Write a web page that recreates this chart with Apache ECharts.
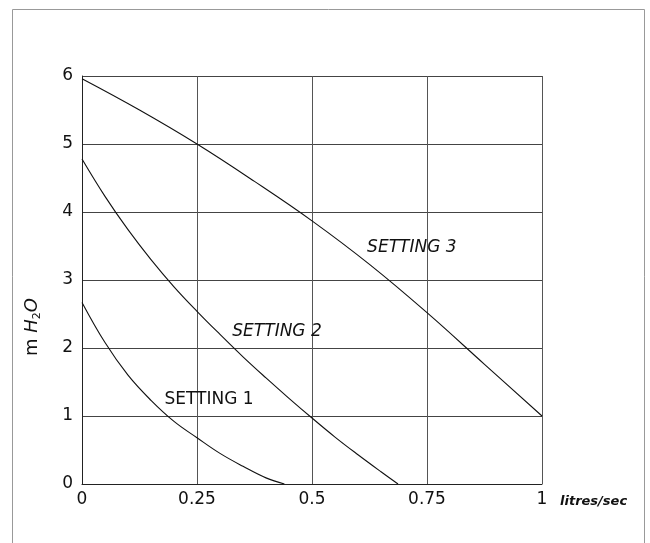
<!DOCTYPE html>
<html>
<head>
<meta charset="utf-8">
<script src="https://cdn.jsdelivr.net/npm/echarts@6/dist/echarts.min.js"></script>
<style>
  html, body { margin: 0; padding: 0; background: #fff; }
  #chart { width: 650px; height: 543px; }
</style>
</head>
<body>
<div id="chart"></div>
<script>
// ---- data ----
var xTickLabels = ['0', '0.25', '0.5', '0.75', '1'];
var yTickLabels = ['0', '1', '2', '3', '4', '5', '6'];

var setting1 = [[0, 2.67], [0.05, 2.08], [0.1, 1.60], [0.15, 1.23], [0.2, 0.92], [0.25, 0.68], [0.3, 0.45], [0.35, 0.26], [0.4, 0.09], [0.44, 0.0]];
var setting2 = [[0, 4.78], [0.05, 4.23], [0.1, 3.74], [0.15, 3.30], [0.2, 2.90], [0.25, 2.54], [0.3, 2.20], [0.35, 1.87], [0.4, 1.56], [0.45, 1.26], [0.5, 0.97], [0.55, 0.69], [0.6, 0.43], [0.65, 0.18], [0.687, 0.0]];
var setting3 = [[0, 5.96], [0.125, 5.50], [0.25, 5.0], [0.375, 4.45], [0.5, 3.87], [0.625, 3.23], [0.75, 2.52], [0.875, 1.76], [1.0, 1.0]];

var seriesNames = ['SETTING 1', 'SETTING 2', 'SETTING 3'];
var labelAnchors = [[0.276, 1.235], [0.424, 2.24], [0.717, 3.47]];
var labelItalic = [false, true, true];

var xAxisName = 'litres/sec';

// ---- chart ----
var chart = echarts.init(document.getElementById('chart'), null, { renderer: 'canvas' });
var FONT = 'DejaVu Sans';
var dataSets = [setting1, setting2, setting3];

var series = dataSets.map(function (d, i) {
  return {
    type: 'line',
    name: seriesNames[i],
    data: d,
    smooth: 0.4,
    showSymbol: false,
    symbol: 'none',
    silent: true,
    lineStyle: { color: '#111', width: 1.1 },
    markPoint: {
      symbol: 'rect',
      symbolSize: 1,
      silent: true,
      itemStyle: { color: 'rgba(0,0,0,0)' },
      label: {
        show: true,
        position: 'inside',
        formatter: seriesNames[i],
        fontFamily: FONT,
        fontSize: 17,
        fontStyle: labelItalic[i] ? 'italic' : 'normal',
        color: '#111'
      },
      data: [{ coord: labelAnchors[i], name: seriesNames[i] }]
    }
  };
});

var option = {
  animation: false,
  backgroundColor: '#fff',
  grid: { left: 82, right: 108, top: 76, bottom: 59, containLabel: false },
  xAxis: {
    type: 'value',
    min: 0, max: 1, interval: 0.25,
    axisLine: { show: true, lineStyle: { color: '#222', width: 1 } },
    axisTick: { show: false },
    axisLabel: {
      margin: 7,
      fontFamily: FONT, fontSize: 17, color: '#111',
      formatter: function (v) { return xTickLabels[Math.round(v / 0.25)]; }
    },
    splitLine: { show: true, lineStyle: { color: '#555', width: 1 } }
  },
  yAxis: {
    type: 'value',
    min: 0, max: 6, interval: 1,
    axisLine: { show: true, lineStyle: { color: '#222', width: 1 } },
    axisTick: { show: false },
    axisLabel: {
      margin: 9,
      fontFamily: FONT, fontSize: 17, color: '#111',
      formatter: function (v) { return yTickLabels[Math.round(v)]; }
    },
    splitLine: { show: true, lineStyle: { color: '#444', width: 1 } }
  },
  graphic: [
    {
      type: 'rect',
      shape: { x: 12.5, y: 9.5, width: 632, height: 600 },
      style: { fill: 'none', stroke: '#999', lineWidth: 1 },
      silent: true
    },
    {
      type: 'text',
      x: 32, y: 327,
      rotation: Math.PI / 2,
      silent: true,
      style: {
        text: '{m|m }{h|H}{s|2}{h|O}',
        align: 'center',
        verticalAlign: 'middle',
        fill: '#111',
        rich: {
          m: { fontFamily: FONT, fontSize: 18, fill: '#111', lineHeight: 22 },
          h: { fontFamily: FONT, fontSize: 18, fontStyle: 'italic', fill: '#111', lineHeight: 22 },
          s: { fontFamily: FONT, fontSize: 11, fill: '#111', lineHeight: 22, verticalAlign: 'bottom' }
        }
      }
    },
    {
      type: 'text',
      x: 560, y: 502,
      silent: true,
      style: {
        text: xAxisName,
        align: 'left',
        verticalAlign: 'middle',
        fontFamily: FONT,
        fontSize: 13,
        fontWeight: 'bold',
        fontStyle: 'italic',
        fill: '#111'
      }
    }
  ],
  series: series
};

chart.setOption(option);
</script>
</body>
</html>
